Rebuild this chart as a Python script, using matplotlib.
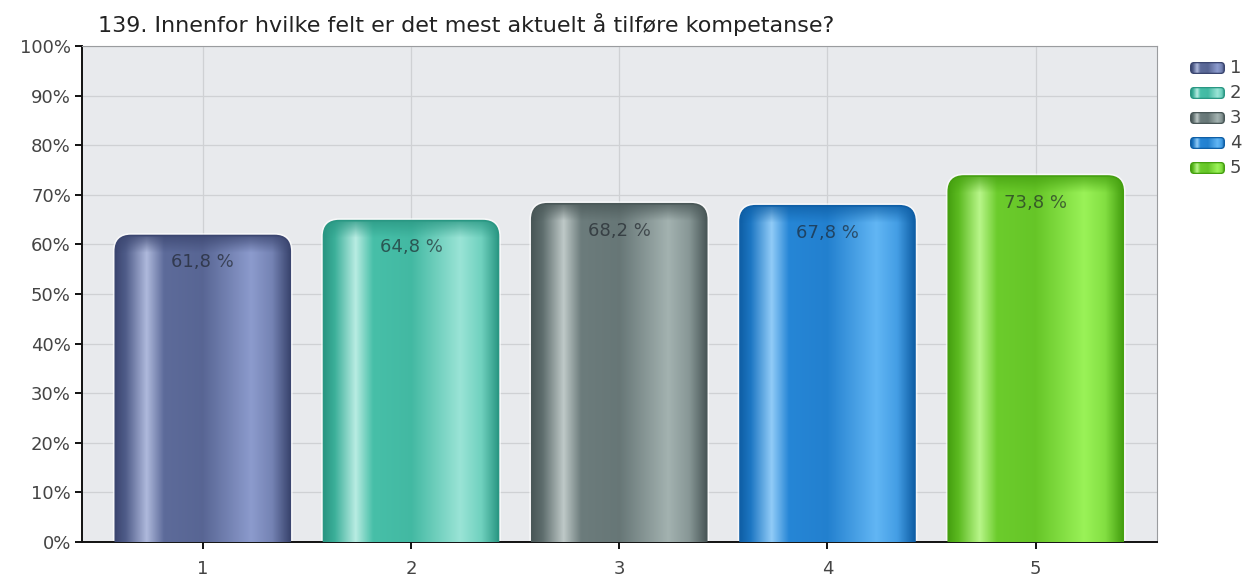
import matplotlib

matplotlib.use("Agg")
import matplotlib.pyplot as plt
import numpy as np
from matplotlib.colors import LinearSegmentedColormap
from matplotlib.patches import FancyBboxPatch
from matplotlib.ticker import FuncFormatter

TITLE = "139. Innenfor hvilke felt er det mest aktuelt å tilføre kompetanse?"
CATEGORIES = ["1", "2", "3", "4", "5"]
VALUES = [61.8, 64.8, 68.2, 67.8, 73.8]
LABELS = ["61,8 %", "64,8 %", "68,2 %", "67,8 %", "73,8 %"]
# (dark edge, body, light side) per bar
SHADES = [
    ("#3b4670", "#5d6b9a", "#8c9bcd"),
    ("#2a9783", "#47bfa8", "#9ae4d6"),
    ("#4a5858", "#6c7c7c", "#a3b2b0"),
    ("#0f5fa6", "#2686d6", "#62b6f4"),
    ("#45a010", "#6ccc2c", "#9af258"),
]

BG = "#e8eaed"
GRID = "#cfd1d4"
W = 0.84

plt.rcParams["font.family"] = ["DejaVu Sans"]


def _mix(c, other, t):
    c = np.array(matplotlib.colors.to_rgb(c))
    o = np.array(matplotlib.colors.to_rgb(other))
    return tuple(c * (1 - t) + o * t)


def _cmap(dark, body, light):
    stops = [
        (0.00, dark),
        (0.06, _mix(body, dark, 0.4)),
        (0.18, _mix(light, "white", 0.3)),
        (0.28, body),
        (0.50, _mix(body, dark, 0.15)),
        (0.78, light),
        (0.90, _mix(light, body, 0.5)),
        (1.00, dark),
    ]
    return LinearSegmentedColormap.from_list("bar", stops)


fig = plt.figure(figsize=(12.48, 5.76), dpi=100)
ax = fig.add_axes([0.0657, 0.059, 0.861, 0.861])
ax.set_facecolor(BG)
xlo, xhi = -0.58, 4.58
ax.set_xlim(xlo, xhi)
ax.set_ylim(0, 100)

ax.set_yticks(np.arange(0, 101, 10))
ax.yaxis.set_major_formatter(FuncFormatter(lambda v, _: f"{v:.0f}%"))
ax.set_xticks(range(len(CATEGORIES)))
ax.set_xticklabels(CATEGORIES)
ax.grid(True, color=GRID, linewidth=0.9)
ax.set_axisbelow(True)
for s in ("top", "right"):
    ax.spines[s].set_color("#9a9c9f")
    ax.spines[s].set_linewidth(0.8)
for s in ("left", "bottom"):
    ax.spines[s].set_color("#111111")
    ax.spines[s].set_linewidth(1.4)
ax.tick_params(axis="both", length=5, width=1.4, color="#111111",
               labelsize=13, labelcolor="#444444")
ax.tick_params(axis="x", pad=8)
ax.tick_params(axis="y", pad=3)

# aspect between data y and data x per pixel, for round corners
bb = ax.get_window_extent()
aspect = (100 / bb.height) / ((xhi - xlo) / bb.width)
grad = np.linspace(0, 1, 256).reshape(1, -1)

for i, (v, lab, sh) in enumerate(zip(VALUES, LABELS, SHADES)):
    x0 = i - W / 2
    halo = FancyBboxPatch((x0, -5), W, v + 5,
                          boxstyle="round,pad=0,rounding_size=0.075",
                          mutation_aspect=aspect, facecolor="none",
                          edgecolor="white", linewidth=3.5, alpha=0.7, zorder=2)
    ax.add_patch(halo)
    clip = FancyBboxPatch((x0, -5), W, v + 5,
                          boxstyle="round,pad=0,rounding_size=0.075",
                          mutation_aspect=aspect, facecolor="none",
                          edgecolor=sh[0], linewidth=1.2, zorder=4)
    ax.add_patch(clip)
    im = ax.imshow(grad, cmap=_cmap(*sh), extent=(x0, x0 + W, 0, v),
                   aspect="auto", zorder=3, interpolation="bilinear")
    im.set_clip_path(clip)
    # darker cap at the top of the bar
    cap = np.zeros((20, 1, 4))
    cap[..., :3] = matplotlib.colors.to_rgb(sh[0])
    cap[:, 0, 3] = np.linspace(0.8, 0.0, 20)
    top = ax.imshow(cap, extent=(x0, x0 + W, v - 3.5, v), aspect="auto",
                    zorder=3.5, interpolation="bilinear")
    top.set_clip_path(clip)
    ax.text(i, v - 5.4, lab, ha="center", va="center", fontsize=13,
            color="#1c2128", alpha=0.65, zorder=5)

ax.set_xlim(xlo, xhi)
ax.set_ylim(0, 100)

fig.text(98 / 1248, 1 - 25 / 576, TITLE, fontsize=16, color="#222222",
         ha="left", va="center")

# legend
for i, sh in enumerate(SHADES):
    y = 1 - (68 + 25 * i) / 576
    lax = fig.add_axes([1190 / 1248, y - 6 / 576, 35 / 1248, 12 / 576])
    lax.set_xlim(0, 1); lax.set_ylim(0, 1); lax.axis("off")
    p = FancyBboxPatch((0.02, 0.05), 0.96, 0.9,
                       boxstyle="round,pad=0,rounding_size=0.1",
                       mutation_aspect=3.0,
                       facecolor="none", edgecolor=sh[0], linewidth=1.0)
    lax.add_patch(p)
    li = lax.imshow(grad, cmap=_cmap(*sh), extent=(0.02, 0.98, 0.05, 0.95),
                    aspect="auto")
    li.set_clip_path(p)
    fig.text(1230 / 1248, y, CATEGORIES[i], fontsize=13, color="#444444",
             ha="left", va="center")

fig.savefig("out.png", dpi=100, facecolor="white")
